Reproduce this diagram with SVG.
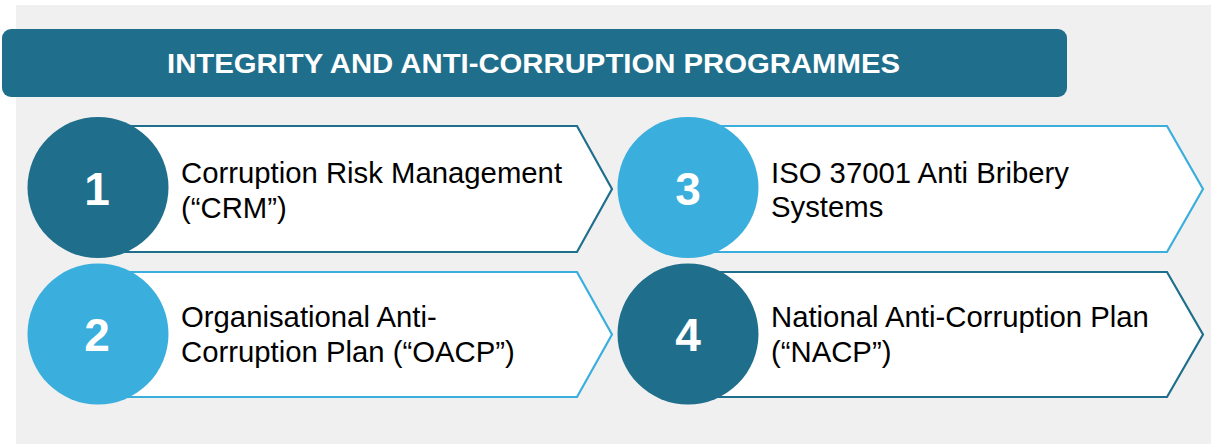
<svg xmlns="http://www.w3.org/2000/svg" width="1211" height="444" viewBox="0 0 1211 444">
  <style>
    .bg { fill: #f0f0f0; }
    .bar { fill: #1f6e8c; }
    .title { font-family: "Liberation Sans", Arial, sans-serif; font-weight: bold; font-size: 28.5px; fill: #ffffff; }
    .arrow { fill: #ffffff; stroke-width: 2.2; }
    .dark-s { stroke: #1f6e8c; }
    .light-s { stroke: #3aaedd; }
    .dark { fill: #1f6e8c; }
    .light { fill: #3aaedd; }
    .num { font-family: "Liberation Sans", Arial, sans-serif; font-weight: bold; font-size: 46px; fill: #ffffff; text-anchor: middle; }
    .label { font-family: "Liberation Sans", Arial, sans-serif; font-size: 29.3px; fill: #000000; }
  </style>
  <rect class="bg" x="16" y="5" width="1195" height="439"/>
  <g id="title">
    <rect class="bar" x="2" y="29" width="1065" height="68" rx="9" ry="9"/>
    <text class="title" x="167" y="73" textLength="733" lengthAdjust="spacingAndGlyphs">INTEGRITY AND ANTI-CORRUPTION PROGRAMMES</text>
  </g>
  <g id="connectors"></g>
  <g id="node1">
    <path class="arrow dark-s" d="M100 126 H577 L612 189 L577 252 H100 Z"/>
    <circle class="dark" cx="98" cy="187.5" r="70.5"/>
    <text class="num" x="97" y="205">1</text>
    <text class="label" x="181" y="183">Corruption Risk Management</text>
    <text class="label" x="181" y="218">(“CRM”)</text>
  </g>
  <g id="node2">
    <path class="arrow light-s" d="M100 272 H577 L612 334.5 L577 397 H100 Z"/>
    <circle class="light" cx="98" cy="334" r="70.5"/>
    <text class="num" x="97" y="351">2</text>
    <text class="label" x="181" y="327">Organisational Anti-</text>
    <text class="label" x="181" y="362">Corruption Plan (“OACP”)</text>
  </g>
  <g id="node3">
    <path class="arrow light-s" d="M690 126 H1167 L1203 189 L1167 252 H690 Z"/>
    <circle class="light" cx="688" cy="187.5" r="70.5"/>
    <text class="num" x="688" y="205">3</text>
    <text class="label" x="771" y="183">ISO 37001 Anti Bribery</text>
    <text class="label" x="771" y="217">Systems</text>
  </g>
  <g id="node4">
    <path class="arrow dark-s" d="M690 272 H1167 L1203 334.5 L1167 397 H690 Z"/>
    <circle class="dark" cx="688" cy="334" r="70.5"/>
    <text class="num" x="688" y="351">4</text>
    <text class="label" x="771" y="327">National Anti-Corruption Plan</text>
    <text class="label" x="771" y="362">(“NACP”)</text>
  </g>
</svg>
